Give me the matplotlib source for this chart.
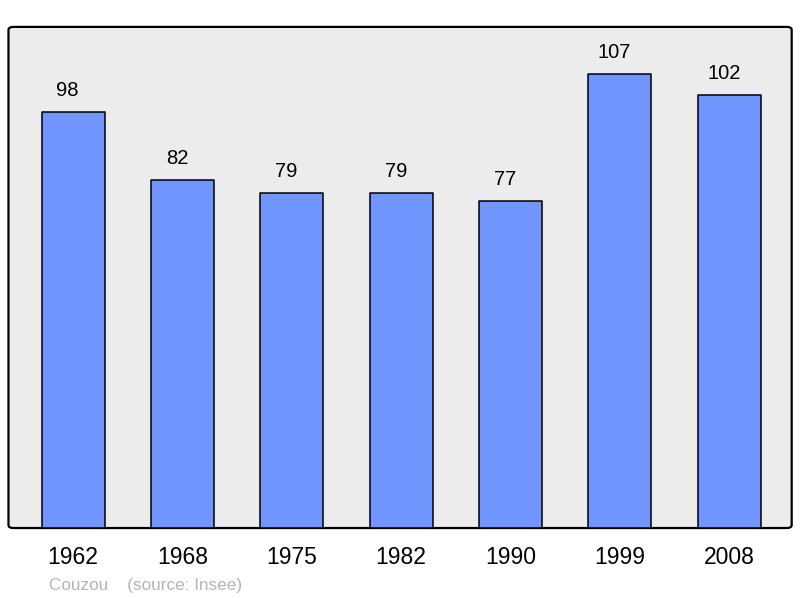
import matplotlib.pyplot as plt
from matplotlib.patches import FancyBboxPatch

years = ["1962", "1968", "1975", "1982", "1990", "1999", "2008"]
population = [98, 82, 79, 79, 77, 107, 102]
commune = "Couzou"
source = "(source: Insee)"

plt.rcParams['font.family'] = ['Liberation Sans', 'DejaVu Sans']

fig = plt.figure(figsize=(8.0, 5.98), dpi=100)
ax = fig.add_axes([0.0106, 0.117, 0.979, 0.838])
ax.set_xlim(-0.59, 6.57)
ax.set_ylim(0, 118)
ax.set_facecolor('none')
for s in ax.spines.values():
    s.set_visible(False)

# rounded frame behind everything
frame = FancyBboxPatch((0, 0), 1, 1, boxstyle="round,pad=0,rounding_size=0.006",
                       transform=ax.transAxes, facecolor='#ececec',
                       edgecolor='black', linewidth=1.6, zorder=0, clip_on=False)
ax.add_patch(frame)

x = range(len(years))
bars = ax.bar(x, population, width=0.576, color='#7095ff', edgecolor='black',
              linewidth=1.1, zorder=2)
for b in bars:
    b.set_joinstyle('round')

for xi, v in zip(x, population):
    ax.text(xi - 0.05, v + 2.8, str(v), ha='center', va='bottom', fontsize=14.5, zorder=3)

ax.set_xticks(list(x))
ax.set_xticklabels(years, fontsize=16.5)
ax.tick_params(axis='x', length=0, pad=13)
ax.set_yticks([])

fig.text(0.061, 0.008, commune + "    " + source, color='#b4b4b4', fontsize=12.3,
         ha='left', va='bottom')

fig.savefig("out.png", dpi=100)
